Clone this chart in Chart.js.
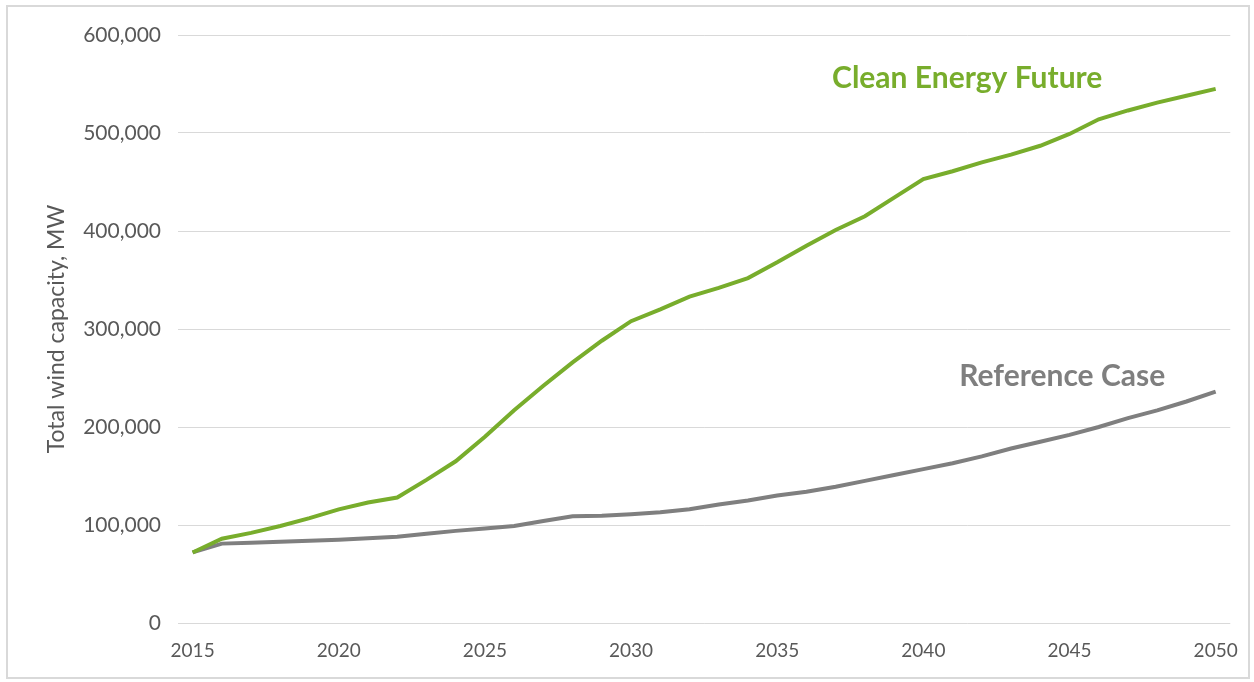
<!DOCTYPE html>
<html>
<head>
<meta charset="utf-8">
<script src="https://cdn.jsdelivr.net/npm/chart.js@4"></script>
<style>
  html, body { margin: 0; padding: 0; background: #fff; }
  #wrap { position: relative; width: 1254px; height: 682px; }
  #frame {
    position: absolute; left: 6px; top: 5px; width: 1240px; height: 670px;
    border: 2px solid #d9d9d9; pointer-events: none;
  }
  canvas { position: absolute; left: 0; top: 0; }
</style>
</head>
<body>
<div id="wrap">
  <canvas id="wind-chart" width="1254" height="682"></canvas>
  <div id="frame"></div>
</div>
<script>
const years = [
  2015, 2016, 2017, 2018, 2019, 2020, 2021, 2022, 2023, 2024, 2025, 2026,
  2027, 2028, 2029, 2030, 2031, 2032, 2033, 2034, 2035, 2036, 2037, 2038,
  2039, 2040, 2041, 2042, 2043, 2044, 2045, 2046, 2047, 2048, 2049, 2050,
];

// Total installed wind capacity, MW
const cleanEnergyFuture = [
  72000, 86000, 92000, 99000, 107000, 116000, 123000, 128000, 146000, 165000, 190000, 217000,
  242000, 266000, 288000, 308000, 320000, 333000, 342000, 352000, 368000, 385000, 401000, 415000,
  434000, 453000, 461000, 470000, 478000, 487000, 499000, 514000, 523000, 531000, 538000, 545000,
];

const referenceCase = [
  72000, 81000, 82000, 83000, 84000, 85000, 86500, 88000, 91000, 94000, 96500, 99000,
  104000, 109000, 109500, 111000, 113000, 116000, 121000, 125000, 130000, 134000, 139000, 145000,
  151000, 157000, 163000, 170000, 178000, 185000, 192000, 200000, 209000, 217000, 226000, 236000,
];

const yTicks = [0, 100000, 200000, 300000, 400000, 500000, 600000];

// series name, x position (category index), y value
const seriesLabels = [
  { text: "Clean Energy Future", index: 26.5, value: 556000, color: "#78ad2c" },
  { text: "Reference Case", index: 29.75, value: 252000, color: "#7f7f7f" },
];

const FONT = "Lato, 'Open Sans', sans-serif";
const TEXT_GRAY = "#595959";

const seriesLabelPlugin = {
  id: "seriesLabels",
  afterDatasetsDraw(chart) {
    const { ctx, scales } = chart;
    ctx.save();
    ctx.textAlign = "center";
    ctx.textBaseline = "middle";
    seriesLabels.forEach((label) => {
      ctx.font = `bold 30px ${FONT}`;
      ctx.fillStyle = label.color;
      ctx.fillText(label.text, scales.x.getPixelForValue(label.index), scales.y.getPixelForValue(label.value));
    });
    ctx.restore();
  },
};

new Chart(document.getElementById("wind-chart"), {
  type: "line",
  data: {
    labels: years,
    datasets: [
      {
        label: "Clean Energy Future",
        data: cleanEnergyFuture,
        borderColor: "#78ad2c",
        borderWidth: 4,
        pointRadius: 0,
        tension: 0,
      },
      {
        label: "Reference Case",
        data: referenceCase,
        borderColor: "#7f7f7f",
        borderWidth: 4,
        pointRadius: 0,
        tension: 0,
      },
    ],
  },
  options: {
    responsive: false,
    animation: false,
    layout: { padding: { left: 39, top: 35, right: 22, bottom: 0 } },
    plugins: {
      legend: { display: false },
      tooltip: { enabled: false },
    },
    scales: {
      x: {
        type: "category",
        offset: true,
        grid: { display: false, drawTicks: false },
        border: { display: false },
        afterFit(scale) { scale.height = 59; },
        ticks: {
          autoSkip: false,
          maxRotation: 0,
          padding: 16,
          color: TEXT_GRAY,
          font: { family: FONT, size: 19 },
          callback(value) {
            const year = years[value];
            return year % 5 === 0 ? String(year) : "";
          },
        },
      },
      y: {
        min: 0,
        max: 600000,
        afterFit(scale) { scale.width = 139; },
        afterBuildTicks(scale) {
          scale.ticks = yTicks.map((v) => ({ value: v }));
        },
        grid: { color: "#d9d9d9", lineWidth: 1, drawTicks: false },
        border: { display: false },
        ticks: {
          padding: 17,
          color: TEXT_GRAY,
          font: { family: FONT, size: 21 },
          callback(value) { return value.toLocaleString("en-US"); },
        },
        title: {
          display: true,
          text: "Total wind capacity, MW",
          color: TEXT_GRAY,
          font: { family: FONT, size: 23 },
          padding: { top: 4, bottom: 4 },
        },
      },
    },
  },
  plugins: [seriesLabelPlugin],
});
</script>
</body>
</html>
